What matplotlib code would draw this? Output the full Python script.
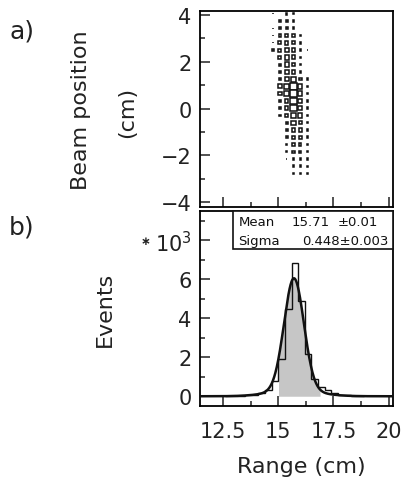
import numpy as np
import matplotlib
matplotlib.use("Agg")
import matplotlib.pyplot as plt
from matplotlib.patches import Rectangle
from matplotlib.ticker import MultipleLocator, FixedLocator

plt.rcParams['font.family'] = ['DejaVu Sans']
plt.rcParams['mathtext.default'] = 'regular'

# ---- a) beam position vs range: 2D box histogram (relative cell contents) ----
range_centers = [14.76, 15.07, 15.38, 15.69, 16.00, 16.31]
beam_centers = [4.05, 3.74, 3.43, 3.12, 2.81, 2.50, 2.19, 1.88, 1.57, 1.26,
                0.95, 0.64, 0.33, 0.02, -0.29, -0.60, -0.91, -1.22, -1.53,
                -1.84, -2.15, -2.46, -2.77]
cell_contents = [
    [1.0, 0.0, 2.0, 1.5, 0.0, 0.0],
    [0.0, 2.0, 2.5, 2.0, 0.0, 0.0],
    [1.0, 2.5, 3.0, 2.5, 0.0, 0.0],
    [1.0, 3.5, 4.0, 3.5, 1.0, 0.0],
    [1.0, 4.0, 5.0, 4.0, 2.0, 0.0],
    [2.0, 4.0, 6.0, 4.5, 2.0, 1.0],
    [0.0, 4.0, 6.0, 5.5, 2.0, 0.0],
    [0.0, 3.0, 6.0, 4.5, 2.0, 0.0],
    [0.0, 3.0, 6.0, 4.5, 2.0, 0.0],
    [0.0, 2.5, 6.0, 6.5, 3.5, 2.0],
    [0.0, 5.5, 6.5, 9.5, 6.0, 2.0],
    [0.0, 5.0, 6.5, 10.0, 6.0, 2.0],
    [0.0, 2.5, 5.0, 9.0, 6.0, 2.0],
    [0.0, 2.5, 5.0, 9.0, 6.0, 2.0],
    [0.0, 2.0, 4.5, 7.0, 6.0, 2.0],
    [0.0, 0.0, 3.0, 6.0, 4.5, 2.0],
    [0.0, 0.0, 3.0, 4.5, 4.5, 2.0],
    [0.0, 0.0, 2.5, 4.5, 4.0, 2.0],
    [0.0, 0.0, 2.0, 3.0, 3.0, 2.0],
    [0.0, 0.0, 2.0, 3.0, 3.0, 2.0],
    [0.0, 0.0, 1.0, 2.5, 2.5, 2.0],
    [0.0, 0.0, 0.0, 2.5, 2.5, 2.0],
    [0.0, 0.0, 0.0, 2.5, 2.5, 2.0],
]

# ---- b) range distribution (events in units of 10^3) ----
bin_edges = [12.6, 12.9, 13.2, 13.5, 13.8, 14.1, 14.4, 14.7, 15.0, 15.3, 15.6,
             15.9, 16.2, 16.5, 16.8, 17.1, 17.4, 17.7, 18.0, 18.3, 18.6, 18.9]
events_k = [0.01, 0.02, 0.03, 0.05, 0.08, 0.15, 0.30, 0.80, 1.90, 4.50, 6.85,
            4.90, 2.15, 0.90, 0.50, 0.30, 0.15, 0.08, 0.05, 0.03, 0.02]

# Gaussian fit results
fit_mean, fit_mean_err = 15.71, 0.01
fit_sigma, fit_sigma_err = 0.448, 0.003
fit_peak_k = 5.75
tail_amp_k, tail_sigma = 0.30, 1.1
fit_range = (15.0, 16.9)

x_ticks = [12.5, 15, 17.5, 20]
x_tick_labels = ['12.5', '15', '17.5', '20']
beam_ticks = [-4, -2, 0, 2, 4]
event_ticks = [0, 2, 4, 6, 8]
event_tick_labels = ['0', '2', '4', '6', '10$^{3}$']

W, H = 406, 485
fig = plt.figure(figsize=(W / 100, H / 100), dpi=100)

ax_a = fig.add_axes([200 / W, 1 - 208 / H, 193 / W, 196 / H])
ax_b = fig.add_axes([200 / W, 1 - 407 / H, 193 / W, 195 / H])

TXT = '#222222'
xlim = (11.45, 20.2)
for ax in (ax_a, ax_b):
    ax.set_xlim(*xlim)
    for s in ax.spines.values():
        s.set_linewidth(1.3)
    ax.xaxis.set_major_locator(FixedLocator(x_ticks))
    ax.xaxis.set_minor_locator(MultipleLocator(1.25))
    ax.tick_params(which='both', direction='in', top=False, right=False,
                   labelsize=15, colors=TXT, width=1.1)
    ax.tick_params(which='major', length=7)
    ax.tick_params(which='minor', length=3.5)

# panel a
ax_a.set_ylim(-4.2, 4.17)
ax_a.yaxis.set_major_locator(FixedLocator(beam_ticks))
ax_a.yaxis.set_minor_locator(MultipleLocator(1))
ax_a.tick_params(axis='y', pad=6)
ax_a.tick_params(axis='x', labelbottom=False)
ax_a.set_yticklabels([str(t).replace('-', '\u2212') for t in beam_ticks])

cell_w, cell_h = 0.31, 0.31
vmax = max(max(r) for r in cell_contents)
for j, yc in enumerate(beam_centers):
    for i, xc in enumerate(range_centers):
        v = cell_contents[j][i]
        if v <= 0:
            continue
        f = v / vmax
        w, h = cell_w * f, cell_h * f
        ax_a.add_patch(Rectangle((xc - w / 2, yc - h / 2), w, h,
                                 facecolor='white', edgecolor='#111111',
                                 linewidth=1.1))

# panel b
ax_b.set_ylim(-0.5, 9.5)
ax_b.yaxis.set_major_locator(FixedLocator(event_ticks))
ax_b.yaxis.set_minor_locator(MultipleLocator(1))
ax_b.set_yticklabels(event_tick_labels)
ax_b.tick_params(axis='y', pad=6)
ax_b.tick_params(axis='x', pad=11)
ax_b.set_xticklabels(x_tick_labels)

# multiplier marker in front of the 10^3 label
ax_b.annotate('\u2217', xy=(0, 8), xycoords=('axes fraction', 'data'),
              xytext=(-39, 0), textcoords='offset points', fontsize=8.5,
              ha='center', va='center', color=TXT, fontweight='bold')

xs = np.linspace(xlim[0], xlim[1], 800)
fit_curve = (fit_peak_k * np.exp(-0.5 * ((xs - fit_mean) / fit_sigma) ** 2)
             + tail_amp_k * np.exp(-0.5 * ((xs - fit_mean) / tail_sigma) ** 2))
in_range = (xs >= fit_range[0]) & (xs <= fit_range[1])
ax_b.fill_between(xs, 0, fit_curve, where=in_range, color='#c6c6c6',
                  linewidth=0, zorder=1)
ax_b.stairs(events_k, bin_edges, color='#111111', linewidth=1.0,
            baseline=0, zorder=2)
ax_b.plot(xs, fit_curve, color='#111111', linewidth=1.8, zorder=3)

# statistics box
ax_b.add_patch(Rectangle((0.171, 0.805), 0.829, 0.195, transform=ax_b.transAxes,
                         facecolor='white', edgecolor='#111111', linewidth=1.2,
                         zorder=4, clip_on=False))
stat_kw = dict(transform=ax_b.transAxes, fontsize=9.5, va='center',
               color='#111111', zorder=5)
ax_b.text(0.20, 0.946, 'Mean', ha='left', **stat_kw)
ax_b.text(0.475, 0.946, f'{fit_mean:.2f}', ha='left', **stat_kw)
ax_b.text(0.715, 0.946, f'\u00b1{fit_mean_err:.2f}', ha='left', **stat_kw)
ax_b.text(0.20, 0.851, 'Sigma', ha='left', **stat_kw)
ax_b.text(0.975, 0.851, f'{fit_sigma:.3f}\u00b1{fit_sigma_err:.3f}', ha='right',
          **stat_kw)

# labels
def fx(px):
    return px / W

def fy(py):
    return 1 - py / H

fig.text(fx(22), fy(32), 'a)', fontsize=18, ha='center', va='center', color=TXT)
fig.text(fx(22), fy(228), 'b)', fontsize=18, ha='center', va='center', color=TXT)
fig.text(fx(81), fy(110), 'Beam position', fontsize=16, rotation=90,
         ha='center', va='center', color=TXT)
fig.text(fx(127), fy(112), '(cm)', fontsize=16, rotation=90,
         ha='center', va='center', color=TXT)
fig.text(fx(105), fy(309), 'Events', fontsize=16, rotation=90,
         ha='center', va='center', color=TXT)
fig.text(fx(301), fy(467), 'Range (cm)', fontsize=16,
         ha='center', va='center', color=TXT)

fig.savefig('out.png', dpi=100)
